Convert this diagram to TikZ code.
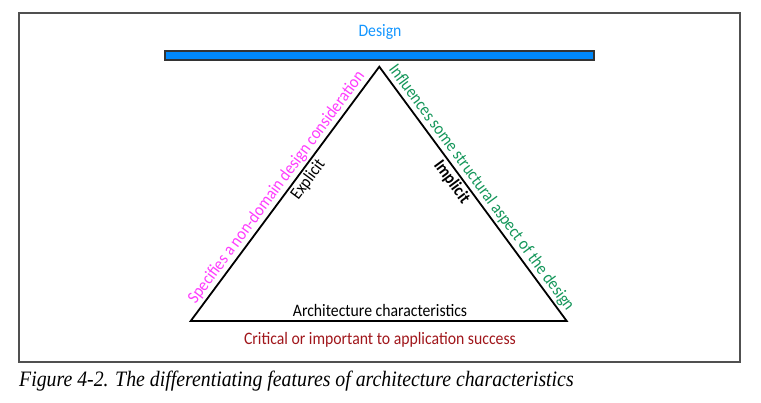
\documentclass[tikz,border=0pt]{standalone}
\usepackage{fontspec}
\setmainfont{Carlito}[FakeStretch=0.9]
\newfontfamily\capfont{Liberation Serif}[FakeStretch=0.9]
\definecolor{barblue}{RGB}{0,136,250}
\definecolor{designblue}{RGB}{20,150,255}
\definecolor{magentatxt}{RGB}{255,60,255}
\definecolor{greentxt}{RGB}{20,150,90}
\definecolor{redtxt}{RGB}{160,22,27}
\definecolor{framegray}{RGB}{80,80,80}
\tikzset{
  lbl/.style={font=\fontsize{17.5}{20}\selectfont, inner sep=2.5pt},
}
\begin{document}
\begin{tikzpicture}[x=1pt,y=-1pt]
\useasboundingbox (0,0) rectangle (761,402);
\draw[framegray, line width=1.2pt] (19,13) rectangle (740,362);
\node[lbl, text=designblue] (design) at (380,32) {Design};
\draw[fill=barblue, draw=black!80, line width=1.3pt] (165,51) rectangle (594,60);
\coordinate (A) at (190.7,321);
\coordinate (B) at (379.3,66.7);
\coordinate (C) at (566.7,321);
\draw[line width=1.8pt, line join=miter] (A) -- (B) -- (C) -- cycle;
\path (A) -- (B)
  node[lbl, pos=0.5, sloped, above, text=magentatxt] (spec) {Specifies a non-domain design consideration}
  node[lbl, pos=0.58, sloped, below] (expl) {Explicit};
\path (B) -- (C)
  node[lbl, pos=0.5, sloped, above, text=greentxt] (infl) {Influences some structural aspect of the design}
  node[lbl, pos=0.43, sloped, below, font=\fontsize{17.5}{20}\selectfont\bfseries] (impl) {Implicit};
\node[lbl, anchor=south] (arch) at (380,319) {Architecture characteristics};
\node[lbl, text=redtxt] (crit) at (380,340) {Critical or important to application success};
\node[anchor=base west, inner sep=0pt, font=\capfont\itshape\fontsize{22}{24}\selectfont] (cap) at (19,386) {Figure 4-2. The differentiating features of architecture characteristics};
\end{tikzpicture}
\end{document}
